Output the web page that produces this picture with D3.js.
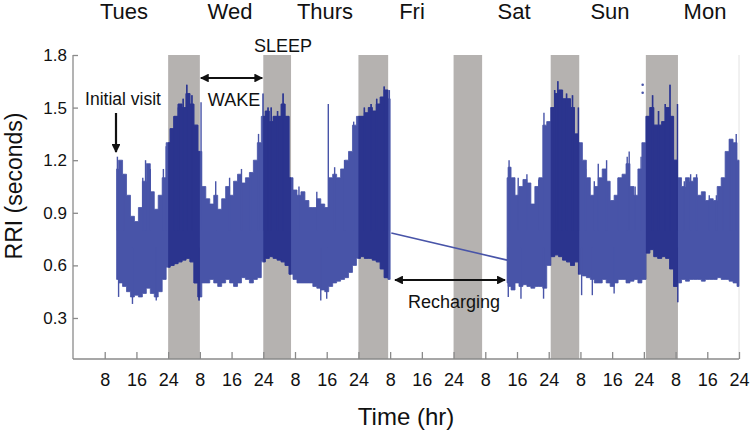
<!DOCTYPE html>
<html><head><meta charset="utf-8">
<script src="https://cdn.jsdelivr.net/npm/d3@7"></script>
<style>html,body{margin:0;padding:0;background:#fff;}svg{display:block;font-family:"Liberation Sans",Arial,sans-serif;}</style>
</head><body>
<svg id="c" width="752" height="432"></svg>
<script>
// ---- data ----
const dayLabels = ["Tues","Wed","Thurs","Fri","Sat","Sun","Mon"];
const dayLabelX = [124,230,325,412,514,610,705];
const yTicks = [0.3,0.6,0.9,1.2,1.5,1.8];
const xTicks = [8,16,24,32,40,48,56,64,72,80,88,96,104,112,120,128,136,144,152,160,168];
const xTickLabels = ["8","16","24","8","16","24","8","16","24","8","16","24","8","16","24","8","16","24","8","16","24"];
const sleepStart = [24,48,72,96,120.5,144.5];
const sleepEnd   = [32,55,79.5,103.2,127.7,152.6];

const seg1Hours = [11,12,13,14,15,16,17,18,19,20,21,22,23,24,25,26,27,28,29,30,31,32,33,34,35,36,37,38,39,40,41,42,43,44,45,46,47,48,49,50,51,52,53,54,55,56,57,58,59,60,61,62,63,64,65,66,67,68,69,70,71,72,73,74,75,76,77,78,79,80];
const seg1Upper = [1.15,1.20,1.12,1.00,0.88,0.85,0.93,1.08,1.18,1.02,0.92,1.00,1.10,1.30,1.38,1.45,1.52,1.50,1.58,1.52,1.40,1.25,1.05,0.98,0.95,1.00,0.92,0.98,1.05,1.00,1.08,1.12,1.07,1.10,1.13,1.20,1.30,1.45,1.48,1.42,1.45,1.45,1.52,1.45,1.10,1.03,1.00,1.02,0.97,0.93,0.93,0.98,0.95,0.93,1.10,1.12,1.10,1.15,1.20,1.25,1.40,1.45,1.45,1.47,1.50,1.48,1.52,1.56,1.60,1.55];
const seg1Lower = [0.52,0.50,0.48,0.45,0.42,0.43,0.42,0.44,0.47,0.44,0.42,0.45,0.52,0.59,0.60,0.61,0.62,0.63,0.64,0.62,0.50,0.42,0.50,0.50,0.52,0.50,0.48,0.50,0.52,0.50,0.48,0.50,0.53,0.52,0.50,0.52,0.53,0.62,0.64,0.65,0.64,0.63,0.62,0.60,0.55,0.52,0.50,0.50,0.50,0.50,0.48,0.47,0.46,0.45,0.48,0.50,0.51,0.52,0.53,0.56,0.60,0.64,0.65,0.64,0.64,0.63,0.62,0.58,0.53,0.52];

const seg2Hours = [109.5,110,111,112,113,114,115,116,117,118,119,120,121,122,123,124,125,126,127,128,129,130,131,132,133,134,135,136,137,138,139,140,141,142,143,144,145,146,147,148,149,150,151,152,153,154,155,156,157,158,159,160,161,162,163,164,165,166,167,168];
const seg2Upper = [1.10,1.16,1.10,1.00,1.05,1.09,1.07,0.95,1.05,1.10,1.40,1.42,1.50,1.58,1.60,1.55,1.55,1.50,1.35,1.30,1.20,1.10,1.00,1.05,1.10,1.15,1.08,0.97,1.00,1.10,1.12,1.18,1.05,1.00,1.15,1.30,1.45,1.50,1.40,1.40,1.42,1.50,1.45,1.20,1.10,1.05,1.10,1.08,1.10,1.00,1.02,0.97,0.98,0.97,1.05,1.10,1.25,1.32,1.30,1.20];
const seg2Lower = [0.50,0.48,0.46,0.50,0.48,0.49,0.48,0.47,0.48,0.48,0.47,0.60,0.65,0.66,0.65,0.63,0.62,0.60,0.62,0.55,0.54,0.53,0.52,0.50,0.50,0.52,0.50,0.48,0.50,0.52,0.52,0.50,0.51,0.52,0.50,0.52,0.67,0.69,0.65,0.64,0.65,0.64,0.58,0.48,0.50,0.52,0.51,0.52,0.52,0.52,0.51,0.52,0.52,0.52,0.53,0.52,0.52,0.51,0.50,0.48];

const spikeHours  = [11.2,12.8,17.6,18.3,19.5,22.8,23.5,25.5,26.6,27.8,28.7,30.0,32.3,36.0,39.5,42.5,44.8,46.8,47.9,49.2,50.0,51.6,53.0,57.0,61.5,64.4,66.0,68.5,70.8,73.5,75.2,76.6,78.5,79.8,110.0,110.2,112.3,114.5,117.5,118.8,121.5,122.3,123.3,124.5,126.0,127.5,129.3,131.5,132.5,134.6,137.5,139.8,140.3,141.8,143.3,146.2,147.7,149.4,150.6,152.5,154.2,155.8,157.3,160.5,162.3,164.0,165.7,166.2,167.3];
const spikeValues = [1.22,1.12,1.10,1.20,1.15,1.15,1.28,1.45,1.50,1.55,1.63,1.57,1.53,1.08,1.10,1.15,1.13,1.35,1.58,1.50,1.50,1.48,1.58,1.05,1.02,1.52,1.16,1.20,1.42,1.50,1.52,1.55,1.62,1.60,1.20,1.16,1.10,1.12,1.09,1.47,1.60,1.65,1.55,1.58,1.57,1.50,1.15,1.08,1.18,1.20,1.10,1.22,1.25,1.05,1.22,1.57,1.48,1.52,1.63,1.52,1.08,1.12,1.12,1.00,1.00,1.10,1.32,1.32,1.35];
const dipHours  = [11.5,15.0,21.0,31.8,62.5,64.0,109.8,113.0,118.7,128.3,131.0,136.5,152.6];
const dipValues = [0.42,0.38,0.40,0.40,0.40,0.41,0.42,0.41,0.41,0.43,0.43,0.44,0.39];
const rechargeHours = [80.3,109.5];
const rechargeValues = [0.785,0.63];
const outlierHours = [143.7,143.7];
const outlierValues = [1.63,1.585];

// ---- scales ----
const svg = d3.select("#c");
const x = d3.scaleLinear().domain([0,168]).range([73,739]);
const y = d3.scaleLinear().domain([0.066,1.8]).range([359,55]);
const wakeCol = "#4854a8", sleepCol = "#2b348e", axisCol = "#8a8a8a";

// sleep bands
svg.append("g").selectAll("rect").data(sleepStart).join("rect")
  .attr("x", (d,i)=>x(d)).attr("width",(d,i)=>x(sleepEnd[i])-x(d))
  .attr("y", y(1.8)).attr("height", y(0.066)-y(1.8)).attr("fill","#b5b2b0");

// right boundary faint line
svg.append("line").attr("x1",x(168)).attr("x2",x(168)).attr("y1",y(1.8)).attr("y2",y(0.066))
  .attr("stroke","#e2e2e2").attr("stroke-width",1);

// clip for sleep
const defs = svg.append("defs");
const cp = defs.append("clipPath").attr("id","sleepClip");
cp.selectAll("rect").data(sleepStart).join("rect")
  .attr("x",(d)=>x(d)).attr("width",(d,i)=>x(sleepEnd[i])-x(d)).attr("y",0).attr("height",432);

const segs = [
  {h:seg1Hours,u:seg1Upper,l:seg1Lower},
  {h:seg2Hours,u:seg2Upper,l:seg2Lower}
];
const area = d3.area().x(d=>x(d.h)).y0(d=>y(d.l)).y1(d=>y(d.u)).curve(d3.curveStep);
const spikes = spikeHours.map((h,i)=>({h, v:spikeValues[i]}));
const dips = dipHours.map((h,i)=>({h, v:dipValues[i]}));

function drawData(g, col){
  segs.forEach(s=>{
    const pts = s.h.map((h,i)=>({h,u:s.u[i],l:s.l[i]}));
    g.append("path").datum(pts).attr("d",area).attr("fill",col).attr("stroke",col).attr("stroke-width",0.8);
  });
  g.selectAll("line.sp").data(spikes).join("line").attr("class","sp")
    .attr("x1",d=>x(d.h)).attr("x2",d=>x(d.h)).attr("y1",y(0.8)).attr("y2",d=>y(d.v))
    .attr("stroke",col).attr("stroke-width",1.4);
  g.selectAll("line.dp").data(dips).join("line").attr("class","dp")
    .attr("x1",d=>x(d.h)).attr("x2",d=>x(d.h)).attr("y1",y(0.7)).attr("y2",d=>y(d.v))
    .attr("stroke",col).attr("stroke-width",1.4);
}
drawData(svg.append("g"), wakeCol);
drawData(svg.append("g").attr("clip-path","url(#sleepClip)"), sleepCol);

// recharge line
svg.append("line").attr("x1",x(rechargeHours[0])).attr("y1",y(rechargeValues[0]))
  .attr("x2",x(rechargeHours[1])).attr("y2",y(rechargeValues[1]))
  .attr("stroke",wakeCol).attr("stroke-width",1.6);
svg.selectAll("circle.out").data(outlierHours).join("circle").attr("class","out")
  .attr("cx",d=>x(d)).attr("cy",(d,i)=>y(outlierValues[i])).attr("r",1.3).attr("fill",wakeCol);

// axes
const yAxis = d3.axisRight(y).tickValues(yTicks).tickSize(5).tickFormat(d3.format(".1f"));
const yg = svg.append("g").attr("transform","translate(73,0)").call(yAxis);
yg.select(".domain").attr("d",`M0,${y(1.8)}V${y(0.066)}`).attr("stroke",axisCol).attr("stroke-width",1.3);
yg.selectAll(".tick line").attr("stroke",axisCol).attr("stroke-width",1.3);
yg.selectAll(".tick text").attr("x",-6).attr("text-anchor","end").attr("font-size",17)
  .attr("font-family","Liberation Sans, Arial, sans-serif").attr("fill","#111");

const xAxis = d3.axisTop(x).tickValues(xTicks).tickSize(7).tickFormat((d,i)=>xTickLabels[i]);
const xg = svg.append("g").attr("transform",`translate(0,${y(0.066)})`).call(xAxis);
xg.select(".domain").attr("d",`M${x(0)},0H${x(168)}`).attr("stroke",axisCol).attr("stroke-width",1.3);
xg.selectAll(".tick line").attr("stroke",axisCol).attr("stroke-width",1.3);
xg.selectAll(".tick text").attr("y",27).attr("dy",0).attr("font-size",18)
  .attr("font-family","Liberation Sans, Arial, sans-serif").attr("fill","#111");

// labels
svg.append("text").attr("transform","translate(22,186) rotate(-90)").attr("text-anchor","middle")
  .attr("font-size",23).attr("fill","#111").text("RRI (seconds)");
svg.append("text").attr("x",406).attr("y",425).attr("text-anchor","middle")
  .attr("font-size",24).attr("fill","#111").text("Time (hr)");
svg.selectAll("text.day").data(dayLabels).join("text").attr("class","day")
  .attr("x",(d,i)=>dayLabelX[i]).attr("y",19).attr("text-anchor","middle")
  .attr("font-size",22).attr("fill","#111").text(d=>d);

// annotations
defs.append("marker").attr("id","ah").attr("viewBox","0 0 10 10").attr("refX",9).attr("refY",5)
  .attr("markerWidth",4).attr("markerHeight",4).attr("orient","auto-start-reverse")
  .append("path").attr("d","M0,0L10,5L0,10z").attr("fill","#111");
function arrow(x1,y1,x2,y2,both){
  const l = svg.append("line").attr("x1",x1).attr("y1",y1).attr("x2",x2).attr("y2",y2)
    .attr("stroke","#111").attr("stroke-width",2.2).attr("marker-end","url(#ah)");
  if(both) l.attr("marker-start","url(#ah)");
}
svg.append("text").attr("x",123).attr("y",105).attr("text-anchor","middle").attr("font-size",17.5).attr("fill","#111").text("Initial visit");
arrow(116,113,116,152,false);
svg.append("text").attr("x",283).attr("y",52).attr("text-anchor","middle").attr("font-size",18).attr("fill","#111").text("SLEEP");
arrow(x(32)+1,78,x(48)-1,78,true);
svg.append("text").attr("x",234).attr("y",106).attr("text-anchor","middle").attr("font-size",18).attr("fill","#111").text("WAKE");
arrow(395,280,505,280,true);
svg.append("text").attr("x",454).attr("y",308).attr("text-anchor","middle").attr("font-size",18).attr("fill","#111").text("Recharging");
</script>
</body></html>
